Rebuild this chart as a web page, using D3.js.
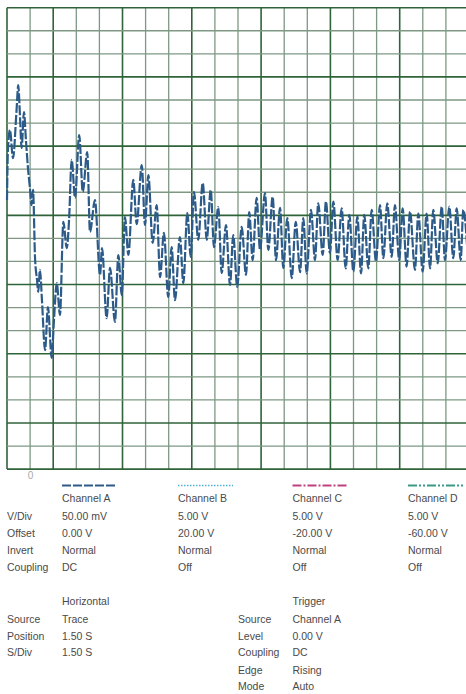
<!DOCTYPE html>
<html>
<head>
<meta charset="utf-8">
<script src="https://cdn.jsdelivr.net/npm/d3@7/dist/d3.min.js"></script>
<style>
  html, body { margin: 0; padding: 0; background: #fff; }
  svg { display: block; }
  text { font-family: "Liberation Sans", Arial, sans-serif; }
</style>
</head>
<body>
<svg id="scope" width="466" height="694"></svg>
<script>
// Channel A capture: time in seconds, voltage in mV
const timeS = [
  -1.50, -1.44, -1.31, -1.11, -0.88, -0.77, -0.66, -0.55, -0.40, -0.27,
  -0.14, -0.01, 0.09, 0.19, 0.32, 0.45, 0.53, 0.64, 0.77, 0.97,
  1.16, 1.40, 1.55, 1.73, 1.94, 2.16, 2.38, 2.53, 2.70, 2.92,
  3.19, 3.42, 3.71, 3.89, 4.21, 4.54, 4.67, 4.97, 5.19, 5.51,
  5.73, 5.95, 6.16, 6.38, 6.70, 6.92, 7.25, 7.46, 7.68, 7.96,
  8.22, 8.44, 8.69, 8.97, 9.19, 9.41, 9.73, 9.95, 10.21, 10.43,
  10.64, 10.92, 11.21, 11.47, 11.73, 11.94, 12.22, 12.44, 12.72, 12.98,
  13.19, 13.45, 13.74, 14.02, 14.23, 14.45, 14.71, 14.93, 15.25, 15.47,
  15.75, 15.97, 16.23, 16.44, 16.70, 16.99, 17.25, 17.53, 17.74, 17.96,
  18.24, 18.50, 18.71, 19.00, 19.21, 19.47, 19.69, 19.97, 20.23, 20.49,
  20.73, 20.99, 21.25, 21.49, 21.70, 21.96, 22.18, 22.46, 22.72, 22.94,
  23.19, 23.48, 23.69, 23.97, 24.19, 24.45, 24.67, 24.99, 25.21, 25.49,
  25.75, 25.97, 26.18, 26.47, 26.73, 26.94, 27.22, 27.48, 27.70, 27.96,
  28.13, 28.44
];
const channelA = [
  83, 192, 235, 174, 278, 332, 267, 196, 274, 213,
  153, 109, 72, 105, -42, -90, -116, -68, -134, -242,
  -149, -259, -177, -97, -166, 36, -21, 40, 170, 88,
  224, 101, 187, 14, 83, -79, -21, -173, -64, -181,
  -36, -123, 46, -36, 127, 31, 159, 29, 137, -10,
  72, -84, 12, -127, -19, -134, 3, -97, 55, -40,
  101, -3, 120, -3, 105, -19, 68, -75, 29, -101,
  7, -105, 25, -79, 57, -47, 88, -25, 98, -25,
  90, -47, 66, -64, 44, -86, 36, -73, 44, -76,
  62, -47, 76, -36, 80, -32, 80, -47, 65, -65,
  51, -72, 47, -76, 51, -65, 62, -50, 72, -43,
  76, -40, 72, -47, 65, -61, 58, -68, 54, -72,
  54, -65, 62, -54, 69, -47, 69, -43, 65, -47,
  62, -51
];

// Display settings
const timeLabels = [0];
const channels = ["Channel A", "Channel B", "Channel C", "Channel D"];
const vPerDiv = ["50.00 mV", "5.00 V", "5.00 V", "5.00 V"];
const offsets = ["0.00 V", "20.00 V", "-20.00 V", "-60.00 V"];
const inverts = ["Normal", "Normal", "Normal", "Normal"];
const couplings = ["DC", "Off", "Off", "Off"];
const channelRowLabels = ["V/Div", "Offset", "Invert", "Coupling"];
const horizontalLabels = ["Source", "Position", "S/Div"];
const horizontalValues = ["Trace", "1.50 S", "1.50 S"];
const triggerLabels = ["Source", "Level", "Coupling", "Edge", "Mode"];
const triggerValues = ["Channel A", "0.00 V", "DC", "Rising", "Auto"];

const svg = d3.select("#scope");
const gridLeft = 7, gridTop = 7.7;
const gridW = 20 * 23.1, gridH = 20 * 23.07;

const x = d3.scaleLinear().domain([-1.5, 28.5]).range([gridLeft, gridLeft + gridW]);
const y = d3.scaleLinear().domain([-500, 500]).range([gridTop + gridH, gridTop]);

// graticule: every third division drawn heavier
const grid = svg.append("g");
const xDivs = d3.range(0, 21).map(i => -1.5 + i * 1.5);
const yDivs = d3.range(0, 21).map(i => 500 - i * 50);
const heavyX = i => i % 3 === 2 || i === 0;
const heavyY = i => i % 3 === 0 || i === 20;
grid.selectAll("line.v").data(xDivs).join("line")
  .attr("x1", d => x(d)).attr("x2", d => x(d))
  .attr("y1", y(500)).attr("y2", y(-500))
  .attr("stroke", (d, i) => heavyX(i) ? "#2f6339" : "#7e9884")
  .attr("stroke-width", (d, i) => heavyX(i) ? 1.6 : 1.3);
grid.selectAll("line.h").data(yDivs).join("line")
  .attr("x1", x(-1.5)).attr("x2", x(28.5))
  .attr("y1", d => y(d)).attr("y2", d => y(d))
  .attr("stroke", (d, i) => heavyY(i) ? "#2f6339" : "#7e9884")
  .attr("stroke-width", (d, i) => heavyY(i) ? 1.6 : 1.3);

// time axis label
const axis = d3.axisBottom(x).tickValues(timeLabels).tickSize(0).tickPadding(3);
const ag = svg.append("g").attr("transform", `translate(0,${y(-500)})`).call(axis);
ag.select(".domain").remove();
ag.selectAll("text").attr("fill", "#a8a8a8").style("font-size", "10px")
  .style("font-family", "'Liberation Sans', Arial, sans-serif");

// trace
const pts = timeS.map((t, i) => [t, channelA[i]]);
const line = d3.line().x(d => x(d[0])).y(d => y(d[1])).curve(d3.curveMonotoneX);
svg.append("path").datum(pts)
  .attr("d", line)
  .attr("fill", "none")
  .attr("stroke", "#2c5b8a")
  .attr("stroke-width", 2.2)
  .attr("stroke-dasharray", "10,2")
  .attr("stroke-linejoin", "round");

// channel table
const colX = [62, 178, 292.5, 408];
const legendStyles = [
  { color: "#2c5b8a", dash: "9,2", w: 2 },
  { color: "#4db4d4", dash: "1.5,1.5", w: 1.5 },
  { color: "#c0407e", dash: "9,2,2,2", w: 2 },
  { color: "#3a9a86", dash: "9,2,2,2,2,2", w: 2 }
];
const fs = "10.5px";
const ink = "#4a4a4a";
const legend = svg.append("g");
channels.forEach((c, i) => {
  legend.append("line")
    .attr("x1", colX[i]).attr("x2", colX[i] + 55)
    .attr("y1", 485.5).attr("y2", 485.5)
    .attr("stroke", legendStyles[i].color)
    .attr("stroke-width", legendStyles[i].w)
    .attr("stroke-dasharray", legendStyles[i].dash);
});
const rowsY = [502, 519.5, 536.7, 554, 571];
const cols = [channels, vPerDiv, offsets, inverts, couplings];
cols.forEach((vals, r) => {
  vals.forEach((v, i) => {
    legend.append("text").attr("x", colX[i]).attr("y", rowsY[r])
      .attr("fill", ink).style("font-size", fs).text(v);
  });
});
channelRowLabels.forEach((l, r) => {
  legend.append("text").attr("x", 7).attr("y", rowsY[r + 1])
    .attr("fill", ink).style("font-size", fs).text(l);
});

// horizontal and trigger settings
const lowY = [605.3, 623, 639.6, 656.3, 673.6, 690.3];
legend.append("text").attr("x", 62).attr("y", lowY[0]).attr("fill", ink).style("font-size", fs).text("Horizontal");
horizontalLabels.forEach((l, r) => {
  legend.append("text").attr("x", 7).attr("y", lowY[r + 1]).attr("fill", ink).style("font-size", fs).text(l);
  legend.append("text").attr("x", 62).attr("y", lowY[r + 1]).attr("fill", ink).style("font-size", fs).text(horizontalValues[r]);
});
legend.append("text").attr("x", 292.5).attr("y", lowY[0]).attr("fill", ink).style("font-size", fs).text("Trigger");
triggerLabels.forEach((l, r) => {
  legend.append("text").attr("x", 238).attr("y", lowY[r + 1]).attr("fill", ink).style("font-size", fs).text(l);
  legend.append("text").attr("x", 292.5).attr("y", lowY[r + 1]).attr("fill", ink).style("font-size", fs).text(triggerValues[r]);
});
</script>
</body>
</html>
